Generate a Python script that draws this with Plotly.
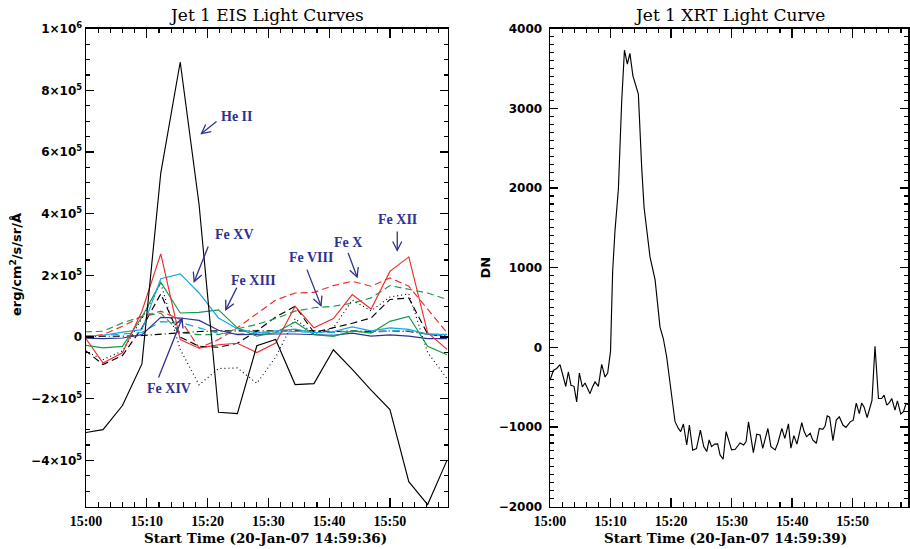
import math
import plotly.graph_objects as go

# ---------------- EIS light curves (left panel) ----------------
# time in minutes after 15:00
eis_t = [-0.2, 2.8, 6.0, 9.2, 12.3, 15.5, 18.6, 21.8, 24.9, 28.1,
         31.2, 34.4, 37.5, 40.7, 43.8, 46.9, 50.0, 53.1, 56.2, 59.4]

he2 = [-310000, -300000, -222000, -87000, 532000, 892000, 430000, -244000, -248000, -28000,
       -8000, -154000, -151000, -41000, -105000, -172000, -235000, -469000, -543000, -399000]
fe12 = [0, -84000, -51000, 84000, 270000, -8000, -36000, -25000, -20000, -50000,
        -19000, 100000, 30000, 60000, 138000, 91000, 213000, 260000, 14000, -40000]
fe15 = [5000, 6000, 16000, 24000, 189000, 205000, 143000, 62000, 27000, 14000,
        20000, 26000, 14000, 18000, 33000, 20000, 30000, 25000, 9000, 9000]
fe13 = [-26000, -35000, -30000, 65000, 178000, 78000, 80000, 88000, 30000, 3000,
        15000, 49000, 8000, 2000, 20000, 13000, 51000, 67000, -30000, -57000]
fe14 = [-3000, -5000, -3000, 8000, 64000, 62000, 54000, 22000, 8000, 10000,
        10000, 10000, 8000, 6000, 13000, 3000, 7000, 3000, -5000, -5000]
fe10 = [0, 8000, 35000, 67000, 84000, 57000, -35000, -8000, 30000, 75000,
        120000, 143000, 145000, 167000, 181000, 165000, 192000, 165000, 89000, 14000]
fe8 = [17000, 19000, 46000, 67000, 78000, 14000, 8000, 8000, 27000, 41000,
       60000, 84000, 95000, 100000, 110000, 127000, 167000, 155000, 143000, 122000]
blk_dash = [-42000, -89000, -60000, 30000, 140000, 0, -30000, -33000, -20000, 20000,
            65000, 100000, 15000, 30000, 45000, 62000, 122000, 127000, 10000, 0]
blk_dot = [-45000, -73000, -45000, 60000, 175000, -40000, -155000, -102000, -100000, -150000,
           -65000, 60000, 10000, 30000, 120000, 85000, 130000, 140000, -50000, -135000]
blk_dashdot = [2000, 2000, 3000, 5000, 10000, 15000, 18000, 20000, 20000, 20000,
               20000, 22000, 20000, 18000, 20000, 18000, 20000, 18000, 10000, 5000]
cyan_dash = [5000, 5000, 10000, 15000, 50000, 48000, 30000, 12000, 10000, 12000,
             15000, 18000, 15000, 15000, 20000, 15000, 20000, 20000, 10000, 8000]

eis_yticks = [-400000, -200000, 0, 200000, 400000, 600000, 800000, 1000000]
eis_yticktext = ["\u22124\u00d710<sup>5</sup>", "\u22122\u00d710<sup>5</sup>", "0",
                 "2\u00d710<sup>5</sup>", "4\u00d710<sup>5</sup>", "6\u00d710<sup>5</sup>",
                 "8\u00d710<sup>5</sup>", "1\u00d710<sup>6</sup>"]

# ---------------- XRT light curve (right panel) ----------------
xrt_t = [0.0, 0.55, 1.1, 1.65, 2.2, 2.6, 3.03, 3.47, 3.97, 4.41,
         4.85, 5.34, 5.79, 6.2, 6.61, 7.0, 7.44, 7.99, 8.54, 9.09,
         9.53, 10.0, 10.35, 10.74, 11.3, 11.85, 12.3, 12.78, 13.2, 13.7,
         14.6, 15.15, 15.54, 16.53, 17.36, 18.18, 18.73, 19.28, 19.94, 20.66,
         21.21, 21.6, 22.04, 22.59, 23.03, 23.58, 24.2, 24.85, 25.4, 25.9,
         26.3, 26.7, 27.2, 27.7, 28.1, 28.6, 29.1, 29.6, 30.0, 30.6,
         31.0, 31.4, 32.0, 32.4, 32.8, 33.6, 34.16, 34.7, 35.15, 35.6,
         36.0, 36.5, 37.2, 37.65, 38.3, 38.8, 39.4, 39.8, 40.3, 40.8,
         41.2, 41.6, 42.0, 42.4, 43.0, 43.4, 44.0, 44.5, 45.07, 45.45,
         45.8, 46.2, 46.75, 47.3, 47.8, 48.4, 48.9, 49.6, 50.1, 50.6,
         51.1, 51.5, 51.9, 52.4, 53.2, 53.7, 54.27, 54.8, 55.2, 55.65,
         56.1, 56.47, 57.0, 57.4, 57.96, 58.4, 58.84, 59.3]
xrt_dn = [-414, -290, -265, -217, -372, -489, -309, -476, -489, -685,
          -322, -497, -447, -520, -581, -500, -434, -489, -213, -372,
          -322, -50, 950, 1466, 1988, 3095, 3730, 3554, 3690, 3408,
          3178, 2259, 1758, 1132, 850, 254, 108, -121, -537, -933,
          -1017, -1058, -962, -1225, -975, -1291, -1270, -1040, -1246, -1308,
          -1162, -1246, -1215, -1212, -1350, -1404, -1058, -1180, -1287, -1280,
          -1240, -1199, -1226, -1183, -936, -1321, -1090, -1100, -1268, -1130,
          -1018, -1246, -1287, -1200, -1017, -1142, -960, -1265, -1108, -1215,
          -1080, -946, -1060, -1121, -1079, -1162, -1204, -1017, -1030, -987,
          -860, -875, -1170, -912, -871, -975, -1004, -935, -914, -700,
          -831, -698, -750, -880, -665, 15, -642, -642, -600, -725,
          -690, -642, -787, -671, -837, -808, -704, -725]

time_tickvals = [0, 10, 20, 30, 40, 50]
time_ticktext = ["15:00", "15:10", "15:20", "15:30", "15:40", "15:50"]

# ---------------- styling ----------------
RED = "#ee2c2c"
CYAN = "#1aa6e0"
GREEN = "#139a4a"
NAVY = "#2e3192"
W = 1.15

FW, FH = 910, 549
L_X0, L_X1 = 86.0, 447.7      # left panel pixel extent
R_X0, R_X1 = 550.0, 908.3     # right panel pixel extent
P_Y0, P_Y1 = 28.7, 506.7      # top / bottom pixel of both panels
L_XR = [0, 59.5]
L_YR = [-550000, 1000000]
R_XR = [0, 59.2]
R_YR = [-2000, 4000]

fig = go.Figure()

def add_eis(y, color, dash="solid"):
    fig.add_trace(go.Scatter(x=eis_t, y=y, mode="lines",
                             line=dict(color=color, width=W, dash=dash),
                             xaxis="x", yaxis="y", hoverinfo="skip"))

add_eis(blk_dot, "black", "1px,3px")
add_eis(blk_dashdot, "black", "7px,3px,1px,3px")
add_eis(blk_dash, "black", "7px,4px")
add_eis(fe8, GREEN, "7px,4px")
add_eis(fe10, RED, "7px,4px")
add_eis(cyan_dash, CYAN, "8px,5px")
add_eis(fe14, NAVY)
add_eis(fe13, GREEN)
add_eis(fe15, CYAN)
add_eis(fe12, RED)
add_eis(he2, "black")

fig.add_trace(go.Scatter(x=xrt_t, y=xrt_dn, mode="lines",
                         line=dict(color="black", width=W),
                         xaxis="x2", yaxis="y2", hoverinfo="skip"))

def px(xp):
    return xp / FW
def py(yp):
    return 1 - yp / FH

ydom = [py(P_Y1), py(P_Y0)]

tick_x_font = dict(family="Liberation Serif", size=14, color="black", weight="bold")
tick_y_font = dict(family="DejaVu Sans", size=12, color="black", weight="bold")

common_axis = dict(showline=True, linecolor="black", linewidth=1.5, mirror="allticks",
                   ticks="inside", tickcolor="black", tickwidth=1.2, automargin=False,
                   showgrid=False, zeroline=False, fixedrange=True)

fig.update_layout(
    width=FW, height=FH,
    margin=dict(l=0, r=0, t=0, b=0, pad=0, autoexpand=False),
    paper_bgcolor="white", plot_bgcolor="white",
    showlegend=False,
    xaxis=dict(common_axis, domain=[px(L_X0), px(L_X1)], range=L_XR, anchor="y",
               tickmode="array", tickvals=time_tickvals, ticktext=time_ticktext,
               ticklen=9, tickfont=tick_x_font, ticklabelstandoff=1,
               minor=dict(tickmode="linear", tick0=0, dtick=2, ticks="inside",
                          ticklen=4.5, tickcolor="black", tickwidth=1.1)),
    yaxis=dict(common_axis, domain=ydom, range=L_YR, anchor="x",
               tickmode="array", tickvals=eis_yticks, ticktext=eis_yticktext,
               ticklen=8, tickfont=tick_y_font,
               minor=dict(tickmode="linear", tick0=0, dtick=50000, ticks="inside",
                          ticklen=4, tickcolor="black", tickwidth=1.1)),
    xaxis2=dict(common_axis, domain=[px(R_X0), px(R_X1)], range=R_XR, anchor="y2",
                tickmode="array", tickvals=time_tickvals, ticktext=time_ticktext,
                ticklen=9, tickfont=tick_x_font, ticklabelstandoff=1,
                minor=dict(tickmode="linear", tick0=0, dtick=2, ticks="inside",
                           ticklen=4.5, tickcolor="black", tickwidth=1.1)),
    yaxis2=dict(common_axis, domain=ydom, range=R_YR, anchor="x2",
                tickmode="linear", tick0=0, dtick=1000,
                ticklen=8, tickfont=tick_y_font, ticklabelstandoff=4,
                minor=dict(tickmode="linear", tick0=0, dtick=100, ticks="inside",
                           ticklen=4, tickcolor="black", tickwidth=1.1)),
)

ann = []
title_font = dict(family="DejaVu Serif", size=17, color="black")
ann.append(dict(text="Jet 1 EIS Light Curves", x=px(266), y=py(15), xref="paper", yref="paper",
                showarrow=False, font=title_font, xanchor="center", yanchor="middle"))
ann.append(dict(text="Jet 1 XRT Light Curve", x=px(729), y=py(15), xref="paper", yref="paper",
                showarrow=False, font=title_font, xanchor="center", yanchor="middle"))
xt_font = dict(family="DejaVu Serif", size=13.5, color="black", weight="bold")
ann.append(dict(text="Start Time (20-Jan-07 14:59:36)", x=px(265), y=py(538), xref="paper",
                yref="paper", showarrow=False, font=xt_font, xanchor="center", yanchor="middle"))
ann.append(dict(text="Start Time (20-Jan-07 14:59:39)", x=px(725), y=py(538), xref="paper",
                yref="paper", showarrow=False, font=xt_font, xanchor="center", yanchor="middle"))
yt_font = dict(family="DejaVu Sans", size=13, color="black", weight="bold")
ann.append(dict(text="erg/cm<sup>2</sup>/s/sr/\u00c5", x=px(16), y=py(265), xref="paper",
                yref="paper", showarrow=False, font=yt_font, textangle=-90,
                xanchor="center", yanchor="middle"))
ann.append(dict(text="DN", x=px(484.5), y=py(268), xref="paper", yref="paper",
                showarrow=False, font=yt_font, textangle=-90,
                xanchor="center", yanchor="middle"))

# ion labels: (text, label_t, label_v, tip_t, tip_v, tail dx px, tail dy px)
label_font = dict(family="Liberation Serif", size=14, color=NAVY, weight="bold")
ion_labels = [
    ("He II", 24.8, 715000, 19.0, 660000, 15, -12),
    ("Fe XV", 24.5, 332000, 17.8, 180000, 14, -35),
    ("Fe XIII", 27.5, 183000, 23.0, 89000, 11, -22),
    ("Fe VIII", 37.0, 258000, 38.65, 102000, -14, -36),
    ("Fe X", 43.1, 306000, 44.6, 195000, -9, -24),
    ("Fe XII", 51.2, 381000, 51.2, 281000, 0, -19),
    ("Fe XIV", 13.65, -167000, 15.8, 60000, -23.5, 59),
]

# pixel <-> data helpers for the left panel (used for arrow geometry only)
def d2p(t, v):
    x = L_X0 + (t - L_XR[0]) / (L_XR[1] - L_XR[0]) * (L_X1 - L_X0)
    y = P_Y1 - (v - L_YR[0]) / (L_YR[1] - L_YR[0]) * (P_Y1 - P_Y0)
    return x, y

def p2d(x, y):
    t = L_XR[0] + (x - L_X0) / (L_X1 - L_X0) * (L_XR[1] - L_XR[0])
    v = L_YR[0] + (P_Y1 - y) / (P_Y1 - P_Y0) * (L_YR[1] - L_YR[0])
    return t, v

shapes = []
HEAD_LEN = 10.0
HEAD_ANG = math.radians(27)
for txt, lt, lv, tt, tv, dx, dy in ion_labels:
    ann.append(dict(text=txt, x=lt, y=lv, xref="x", yref="y", showarrow=False,
                    font=label_font, xanchor="center", yanchor="middle"))
    tipx, tipy = d2p(tt, tv)
    tailx, taily = tipx + dx, tipy + dy
    ux, uy = tipx - tailx, tipy - taily
    n = math.hypot(ux, uy)
    ux, uy = ux / n, uy / n
    pts = []
    for s in (1, -1):
        ca, sa = math.cos(s * HEAD_ANG), math.sin(s * HEAD_ANG)
        rx = ux * ca - uy * sa
        ry = ux * sa + uy * ca
        pts.append((tipx - HEAD_LEN * rx, tipy - HEAD_LEN * ry))
    a = p2d(tailx, taily)
    b = p2d(tipx, tipy)
    h1 = p2d(*pts[0])
    h2 = p2d(*pts[1])
    shapes.append(dict(type="path", xref="x", yref="y",
                       path=f"M{a[0]},{a[1]} L{b[0]},{b[1]}",
                       line=dict(color=NAVY, width=1.3)))
    shapes.append(dict(type="path", xref="x", yref="y",
                       path=f"M{h1[0]},{h1[1]} L{b[0]},{b[1]} L{h2[0]},{h2[1]}",
                       line=dict(color=NAVY, width=1.3)))

fig.update_layout(annotations=ann, shapes=shapes)
fig.write_html(
    "out.html",
    config={"displayModeBar": False, "staticPlot": True},
    post_script="document.body.style.margin='0px';document.body.style.padding='0px';"
                "document.body.style.overflow='hidden';",
)
